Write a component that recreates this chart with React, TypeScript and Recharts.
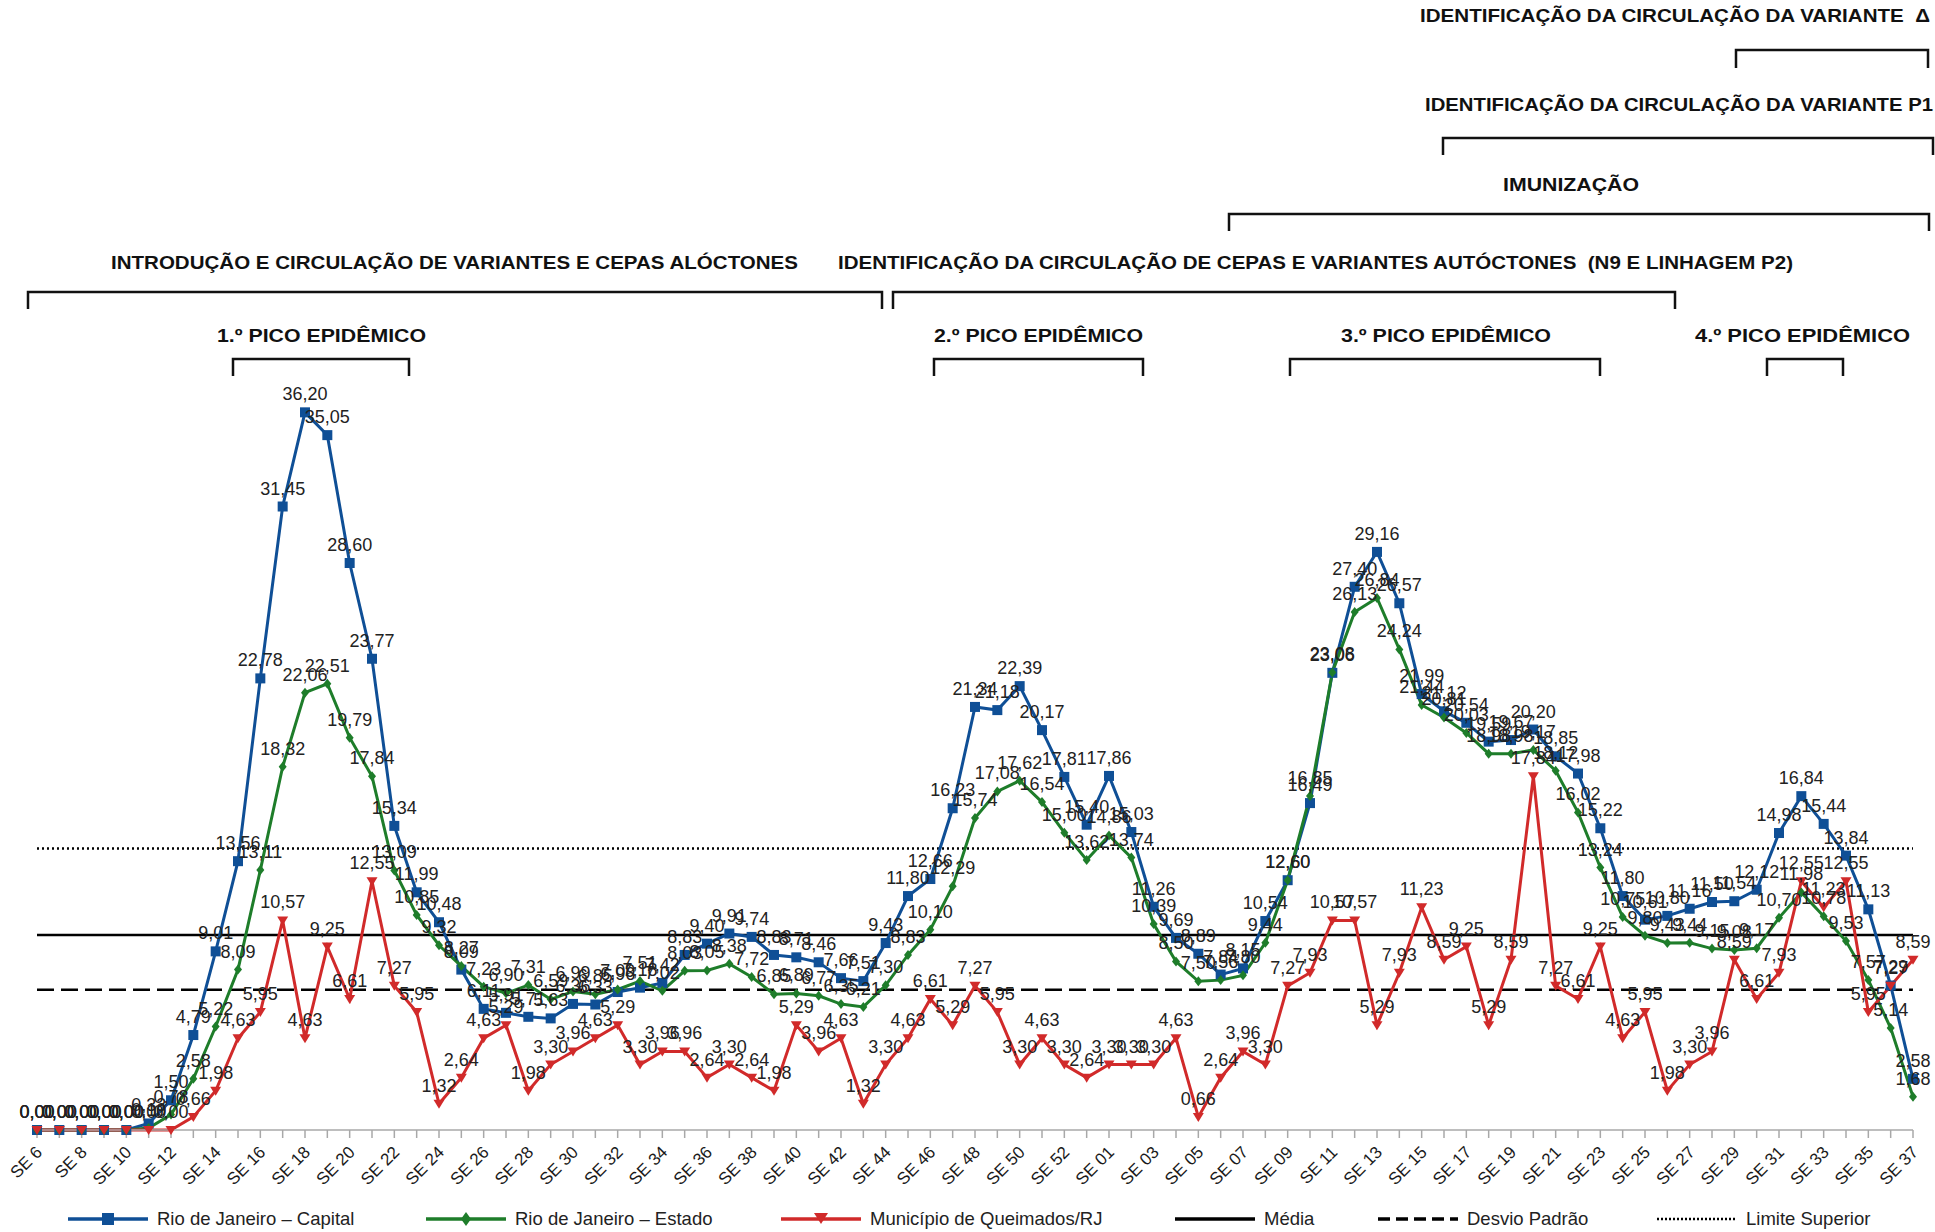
import React from 'react';
import { LineChart, Line, XAxis, YAxis, LabelList, Legend } from 'recharts';

// ---- categories (epidemiological weeks 2020 → 2021) ----
const semanas: string[] = [
  'SE 6', 'SE 7', 'SE 8', 'SE 9', 'SE 10', 'SE 11', 'SE 12', 'SE 13', 'SE 14', 'SE 15',
  'SE 16', 'SE 17', 'SE 18', 'SE 19', 'SE 20', 'SE 21', 'SE 22', 'SE 23', 'SE 24', 'SE 25',
  'SE 26', 'SE 27', 'SE 28', 'SE 29', 'SE 30', 'SE 31', 'SE 32', 'SE 33', 'SE 34', 'SE 35',
  'SE 36', 'SE 37', 'SE 38', 'SE 39', 'SE 40', 'SE 41', 'SE 42', 'SE 43', 'SE 44', 'SE 45',
  'SE 46', 'SE 47', 'SE 48', 'SE 49', 'SE 50', 'SE 51', 'SE 52', 'SE 53',
  'SE 01', 'SE 02', 'SE 03', 'SE 04', 'SE 05', 'SE 06', 'SE 07', 'SE 08', 'SE 09', 'SE 10',
  'SE 11', 'SE 12', 'SE 13', 'SE 14', 'SE 15', 'SE 16', 'SE 17', 'SE 18', 'SE 19', 'SE 20',
  'SE 21', 'SE 22', 'SE 23', 'SE 24', 'SE 25', 'SE 26', 'SE 27', 'SE 28', 'SE 29', 'SE 30',
  'SE 31', 'SE 32', 'SE 33', 'SE 34', 'SE 35', 'SE 36', 'SE 37',
];

// ---- series values ----
const capital: number[] = [
  0.00, 0.00, 0.00, 0.00, 0.00, 0.33, 1.50, 4.79, 9.01, 13.56,
  22.78, 31.45, 36.20, 35.05, 28.60, 23.77, 15.34, 11.99, 10.48, 8.09,
  6.11, 5.91, 5.71, 5.63, 6.36, 6.33, 6.96, 7.18, 7.42, 8.83,
  9.40, 9.91, 9.74, 8.83, 8.71, 8.46, 7.66, 7.51, 9.43, 11.80,
  12.66, 16.23, 21.34, 21.18, 22.39, 20.17, 17.81, 15.40,
  17.86, 15.03, 11.26, 9.69, 8.89, 7.84, 8.15, 10.54, 12.60, 16.49,
  23.06, 27.40, 29.16, 26.57, 21.99, 21.12, 20.54, 19.59, 19.67, 20.20,
  18.85, 17.98, 15.22, 11.80, 10.61, 10.80, 11.16, 11.50, 11.54, 12.12,
  14.98, 16.84, 15.44, 13.84, 11.13, 7.29, 2.58,
];

const estado: number[] = [
  0.00, 0.00, 0.00, 0.00, 0.00, 0.10, 0.78, 2.58, 5.22, 8.09,
  13.11, 18.32, 22.06, 22.51, 19.79, 17.84, 13.09, 10.85, 9.32, 8.27,
  7.23, 6.90, 7.31, 6.59, 6.99, 6.85, 7.09, 7.51, 7.02, 8.03,
  8.05, 8.38, 7.72, 6.85, 6.89, 6.77, 6.35, 6.21, 7.30, 8.83,
  10.10, 12.29, 15.74, 17.08, 17.62, 16.54, 15.00, 13.62,
  14.86, 13.74, 10.39, 8.50, 7.50, 7.56, 7.80, 9.44, 12.60, 16.85,
  23.08, 26.13, 26.84, 24.24, 21.44, 20.81, 20.03, 18.98, 18.98, 19.17,
  18.12, 16.02, 13.24, 10.75, 9.80, 9.43, 9.44, 9.15, 9.08, 9.17,
  10.70, 11.98, 10.78, 9.53, 7.57, 5.14, 1.68,
];

const queimados: number[] = [
  0.00, 0.00, 0.00, 0.00, 0.00, 0.00, 0.00, 0.66, 1.98, 4.63,
  5.95, 10.57, 4.63, 9.25, 6.61, 12.55, 7.27, 5.95, 1.32, 2.64,
  4.63, 5.29, 1.98, 3.30, 3.96, 4.63, 5.29, 3.30, 3.96, 3.96,
  2.64, 3.30, 2.64, 1.98, 5.29, 3.96, 4.63, 1.32, 3.30, 4.63,
  6.61, 5.29, 7.27, 5.95, 3.30, 4.63, 3.30, 2.64,
  3.30, 3.30, 3.30, 4.63, 0.66, 2.64, 3.96, 3.30, 7.27, 7.93,
  10.57, 10.57, 5.29, 7.93, 11.23, 8.59, 9.25, 5.29, 8.59, 17.84,
  7.27, 6.61, 9.25, 4.63, 5.95, 1.98, 3.30, 3.96, 8.59, 6.61,
  7.93, 12.55, 11.23, 12.55, 5.95, 7.27, 8.59,
];

// reference levels
const MEDIA = 9.83;
const DESVIO_PADRAO = 7.07;
const LIMITE_SUPERIOR = 14.2;

const data = semanas.map((se, i) => ({
  se,
  capital: capital[i],
  estado: estado[i],
  queimados: queimados[i],
  media: MEDIA,
  desvio: DESVIO_PADRAO,
  limite: LIMITE_SUPERIOR,
}));

// ---- styles ----
const BLUE = '#0f4f96';
const GREEN = '#1e7d2a';
const RED = '#d12a2a';
const FONT = "'Liberation Sans', Arial, sans-serif";
const NARROW = "'Liberation Sans Narrow', 'Liberation Sans', Arial, sans-serif";

const fmt = (v: any) => (typeof v === 'number' ? v.toFixed(2).replace('.', ',') : v);

const SquareDot = (p: any) => (
  <rect key={`sq-${p.index}`} x={p.cx - 5} y={p.cy - 5} width={10} height={10} fill={BLUE} />
);
const DiamondDot = (p: any) => (
  <polygon
    key={`dm-${p.index}`}
    points={`${p.cx},${p.cy - 5} ${p.cx + 4},${p.cy} ${p.cx},${p.cy + 5} ${p.cx - 4},${p.cy}`}
    fill={GREEN}
  />
);
const TriangleDot = (p: any) => (
  <polygon
    key={`tr-${p.index}`}
    points={`${p.cx - 5.5},${p.cy - 4} ${p.cx + 5.5},${p.cy - 4} ${p.cx},${p.cy + 5}`}
    fill={RED}
  />
);

const XTick = (props: any) => {
  const { x, y, payload } = props;
  const idx = payload && typeof payload.index === 'number' ? payload.index : props.index;
  if (idx % 2 !== 0) return <g />;
  return (
    <g transform={`translate(${x + 2},${y + 9})`}>
      <text
        x={0}
        y={0}
        dy="0.35em"
        textAnchor="end"
        transform="rotate(-45)"
        fontSize={17}
        fontFamily={FONT}
        fill="#1a1a1a"
      >
        {payload.value}
      </text>
    </g>
  );
};

// ---- legend ----
const legendItems = [
  { label: 'Rio de Janeiro – Capital', color: BLUE, marker: 'square', dash: '' },
  { label: 'Rio de Janeiro – Estado', color: GREEN, marker: 'diamond', dash: '' },
  { label: 'Município de Queimados/RJ', color: RED, marker: 'triangle', dash: '' },
  { label: 'Média', color: '#000', marker: '', dash: '' },
  { label: 'Desvio Padrão', color: '#000', marker: '', dash: '12 6' },
  { label: 'Limite Superior', color: '#000', marker: '', dash: '2 2' },
];
const legendLeft = [68, 426, 781, 1175, 1378, 1657];

const renderLegend = () => (
  <div style={{ position: 'relative', width: 1935, height: 28 }}>
    {legendItems.map((it, i) => (
      <div
        key={it.label}
        style={{
          position: 'absolute',
          left: legendLeft[i],
          top: 1,
          height: 28,
          display: 'flex',
          alignItems: 'center',
        }}
      >
        <svg width={80} height={20}>
          <line
            x1={0}
            y1={10}
            x2={80}
            y2={10}
            stroke={it.color}
            strokeWidth={it.dash === '2 2' ? 2.5 : 3.5}
            strokeDasharray={it.dash || undefined}
          />
          {it.marker === 'square' && <rect x={34} y={4} width={12} height={12} fill={it.color} />}
          {it.marker === 'diamond' && <polygon points="40,3 45,10 40,17 35,10" fill={it.color} />}
          {it.marker === 'triangle' && <polygon points="33,4 47,4 40,15" fill={it.color} />}
        </svg>
        <span style={{ marginLeft: 9, fontSize: 18.5, fontFamily: FONT, color: '#222', whiteSpace: 'nowrap' }}>
          {it.label}
        </span>
      </div>
    ))}
  </div>
);

// ---- period annotations (overlay above the plot) ----
const annotationTexts = [
  { text: 'IDENTIFICAÇÃO DA CIRCULAÇÃO DA VARIANTE  Δ', x1: 1420, x2: 1930, y: 22 },
  { text: 'IDENTIFICAÇÃO DA CIRCULAÇÃO DA VARIANTE P1', x1: 1425, x2: 1933, y: 111 },
  { text: 'IMUNIZAÇÃO', x1: 1503, x2: 1639, y: 191 },
  { text: 'INTRODUÇÃO E CIRCULAÇÃO DE VARIANTES E CEPAS ALÓCTONES', x1: 111, x2: 798, y: 269 },
  {
    text: 'IDENTIFICAÇÃO DA CIRCULAÇÃO DE CEPAS E VARIANTES AUTÓCTONES  (N9 E LINHAGEM P2)',
    x1: 838,
    x2: 1793,
    y: 269,
  },
  { text: '1.º PICO EPIDÊMICO', x1: 217, x2: 426, y: 342 },
  { text: '2.º PICO EPIDÊMICO', x1: 934, x2: 1143, y: 342 },
  { text: '3.º PICO EPIDÊMICO', x1: 1341, x2: 1551, y: 342 },
  { text: '4.º PICO EPIDÊMICO', x1: 1695, x2: 1910, y: 342 },
];
const annotationBrackets = [
  { x1: 1736, x2: 1928, y1: 50, y2: 68 },
  { x1: 1443, x2: 1933, y1: 138, y2: 155 },
  { x1: 1229, x2: 1929, y1: 214, y2: 231 },
  { x1: 28, x2: 882, y1: 292, y2: 309 },
  { x1: 893, x2: 1675, y1: 292, y2: 309 },
  { x1: 233, x2: 409, y1: 359, y2: 376 },
  { x1: 934, x2: 1143, y1: 359, y2: 376 },
  { x1: 1290, x2: 1600, y1: 359, y2: 376 },
  { x1: 1767, x2: 1843, y1: 359, y2: 376 },
];

const Annotations = () => (
  <svg
    width={1935}
    height={400}
    style={{ position: 'absolute', left: 0, top: 0, pointerEvents: 'none' }}
  >
    {annotationTexts.map((a) => (
      <text
        key={a.text}
        x={a.x1}
        y={a.y}
        textLength={a.x2 - a.x1}
        lengthAdjust="spacingAndGlyphs"
        fontSize={19}
        fontWeight="bold"
        fontFamily={NARROW}
        fill="#111"
        style={{ whiteSpace: 'pre' }}
      >
        {a.text}
      </text>
    ))}
    {annotationBrackets.map((b, i) => (
      <path
        key={i}
        d={`M${b.x1},${b.y2} L${b.x1},${b.y1} L${b.x2},${b.y1} L${b.x2},${b.y2}`}
        fill="none"
        stroke="#111"
        strokeWidth={2.5}
      />
    ))}
  </svg>
);

export default function App() {
  return (
    <div
      style={{
        position: 'absolute',
        left: 0,
        top: 0,
        width: 1935,
        height: 1232,
        background: '#fff',
        fontFamily: FONT,
      }}
    >
      <LineChart
        width={1935}
        height={1232}
        data={data}
        margin={{ top: 337, right: 22, left: 37, bottom: 0 }}
      >
        <XAxis
          dataKey="se"
          interval={0}
          height={74}
          tickSize={8}
          tick={<XTick />}
          stroke="#a8a8a8"
          strokeWidth={1.5}
          tickLine={{ stroke: '#a8a8a8', strokeWidth: 1.5 }}
        />
        <YAxis hide domain={[0, 40]} />
        <Legend
          verticalAlign="bottom"
          content={renderLegend}
          wrapperStyle={{ left: 0, bottom: 0, width: 1935, height: 28 }}
        />
        <Line
          dataKey="media"
          name="Média"
          stroke="#000"
          strokeWidth={2.5}
          dot={false}
          activeDot={false}
          isAnimationActive={false}
        />
        <Line
          dataKey="desvio"
          name="Desvio Padrão"
          stroke="#000"
          strokeWidth={2.5}
          strokeDasharray="17 7"
          dot={false}
          activeDot={false}
          isAnimationActive={false}
        />
        <Line
          dataKey="limite"
          name="Limite Superior"
          stroke="#000"
          strokeWidth={2.5}
          strokeDasharray="2 3"
          dot={false}
          activeDot={false}
          isAnimationActive={false}
        />
        <Line
          dataKey="capital"
          name="Rio de Janeiro – Capital"
          stroke={BLUE}
          strokeWidth={3}
          dot={SquareDot}
          activeDot={false}
          isAnimationActive={false}
        >
          <LabelList dataKey="capital" position="top" offset={12} formatter={fmt} fontSize={18} fill="#222" fontFamily={FONT} />
        </Line>
        <Line
          dataKey="estado"
          name="Rio de Janeiro – Estado"
          stroke={GREEN}
          strokeWidth={3}
          dot={DiamondDot}
          activeDot={false}
          isAnimationActive={false}
        >
          <LabelList dataKey="estado" position="top" offset={12} formatter={fmt} fontSize={18} fill="#222" fontFamily={FONT} />
        </Line>
        <Line
          dataKey="queimados"
          name="Município de Queimados/RJ"
          stroke={RED}
          strokeWidth={3}
          dot={TriangleDot}
          activeDot={false}
          isAnimationActive={false}
        >
          <LabelList dataKey="queimados" position="top" offset={12} formatter={fmt} fontSize={18} fill="#222" fontFamily={FONT} />
        </Line>
      </LineChart>
      <Annotations />
    </div>
  );
}
